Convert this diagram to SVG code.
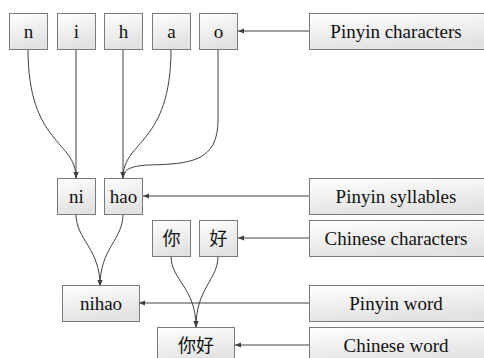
<svg xmlns="http://www.w3.org/2000/svg" width="484" height="358" viewBox="0 0 484 358">
<defs>
<linearGradient id="g" x1="0" y1="0" x2="0.3" y2="1">
<stop offset="0" stop-color="#ffffff"/>
<stop offset="1" stop-color="#e2e2e2"/>
</linearGradient>
<marker id="a" viewBox="0 0 6 6" refX="6" refY="3" markerWidth="6" markerHeight="6" markerUnits="userSpaceOnUse" orient="auto">
<path d="M0,0.5 L6,3 L0,5.5 z" fill="#404040"/>
</marker>
<style>
rect{fill:url(#g);stroke:#7a7a7a;stroke-width:1}
#edges path{fill:none;stroke:#404040;stroke-width:1;marker-end:url(#a)}
</style>
</defs>
<g id="edges">
<path d="M28,49 C28,145 76,140 76,178"/>
<path d="M76,49 L76,178"/>
<path d="M123,49 L123,178"/>
<path d="M171,49 C171,145 123,140 123,178"/>
<path d="M218,49 L218,120 C218,162 190,164 148,165 C130,166 123,170 123,178"/>
<path d="M76,214 C76,240 100,248 100,286"/>
<path d="M123,214 C123,240 100,248 100,286"/>
<path d="M171,256 C171,280 196,288 196,327"/>
<path d="M218,256 C218,280 196,288 196,327"/>
<path d="M309,31 L238,31"/>
<path d="M309,196 L143,196"/>
<path d="M309,238 L238,238"/>
<path d="M309,303 L139,303"/>
<path d="M309,345 L235,345"/>
</g>
<g font-family="'Liberation Serif', 'Times New Roman', serif" font-size="19" fill="#111" text-anchor="middle">
<g id="n"><rect x="9.5" y="13.5" width="38" height="36"/><text x="28.5" y="38">n</text></g>
<g id="i"><rect x="57.5" y="13.5" width="38" height="36"/><text x="76.5" y="38">i</text></g>
<g id="h"><rect x="104.5" y="13.5" width="38" height="36"/><text x="123.5" y="38">h</text></g>
<g id="a1"><rect x="152.5" y="13.5" width="38" height="36"/><text x="171.5" y="38">a</text></g>
<g id="o"><rect x="199.5" y="13.5" width="38" height="36"/><text x="218.5" y="38">o</text></g>
<g id="pinyin-characters"><rect x="309.5" y="13.5" width="176" height="36"/><text x="396" y="38">Pinyin characters</text></g>
<g id="ni"><rect x="57.5" y="178.5" width="38" height="36"/><text x="76.5" y="203">ni</text></g>
<g id="hao"><rect x="104.5" y="178.5" width="38" height="36"/><text x="123.5" y="203">hao</text></g>
<g id="pinyin-syllables"><rect x="309.5" y="178.5" width="176" height="36"/><text x="396" y="203">Pinyin syllables</text></g>
<g id="ni-char"><rect x="152.5" y="220.5" width="38" height="36"/><text font-family="'Noto Sans CJK SC', sans-serif" font-size="18" x="171.5" y="245">你</text></g>
<g id="hao-char"><rect x="199.5" y="220.5" width="38" height="36"/><text font-family="'Noto Sans CJK SC', sans-serif" font-size="18" x="218.5" y="245">好</text></g>
<g id="chinese-characters"><rect x="309.5" y="220.5" width="176" height="36"/><text x="396" y="245">Chinese characters</text></g>
<g id="nihao"><rect x="62.5" y="285.5" width="77" height="36"/><text x="101" y="310">nihao</text></g>
<g id="pinyin-word"><rect x="309.5" y="285.5" width="176" height="36"/><text x="396" y="310">Pinyin word</text></g>
<g id="nihao-char"><rect x="157.5" y="327.5" width="77" height="36"/><text font-family="'Noto Sans CJK SC', sans-serif" font-size="18" x="196" y="352">你好</text></g>
<g id="chinese-word"><rect x="309.5" y="327.5" width="176" height="36"/><text x="396" y="352">Chinese word</text></g>
</g>
</svg>
